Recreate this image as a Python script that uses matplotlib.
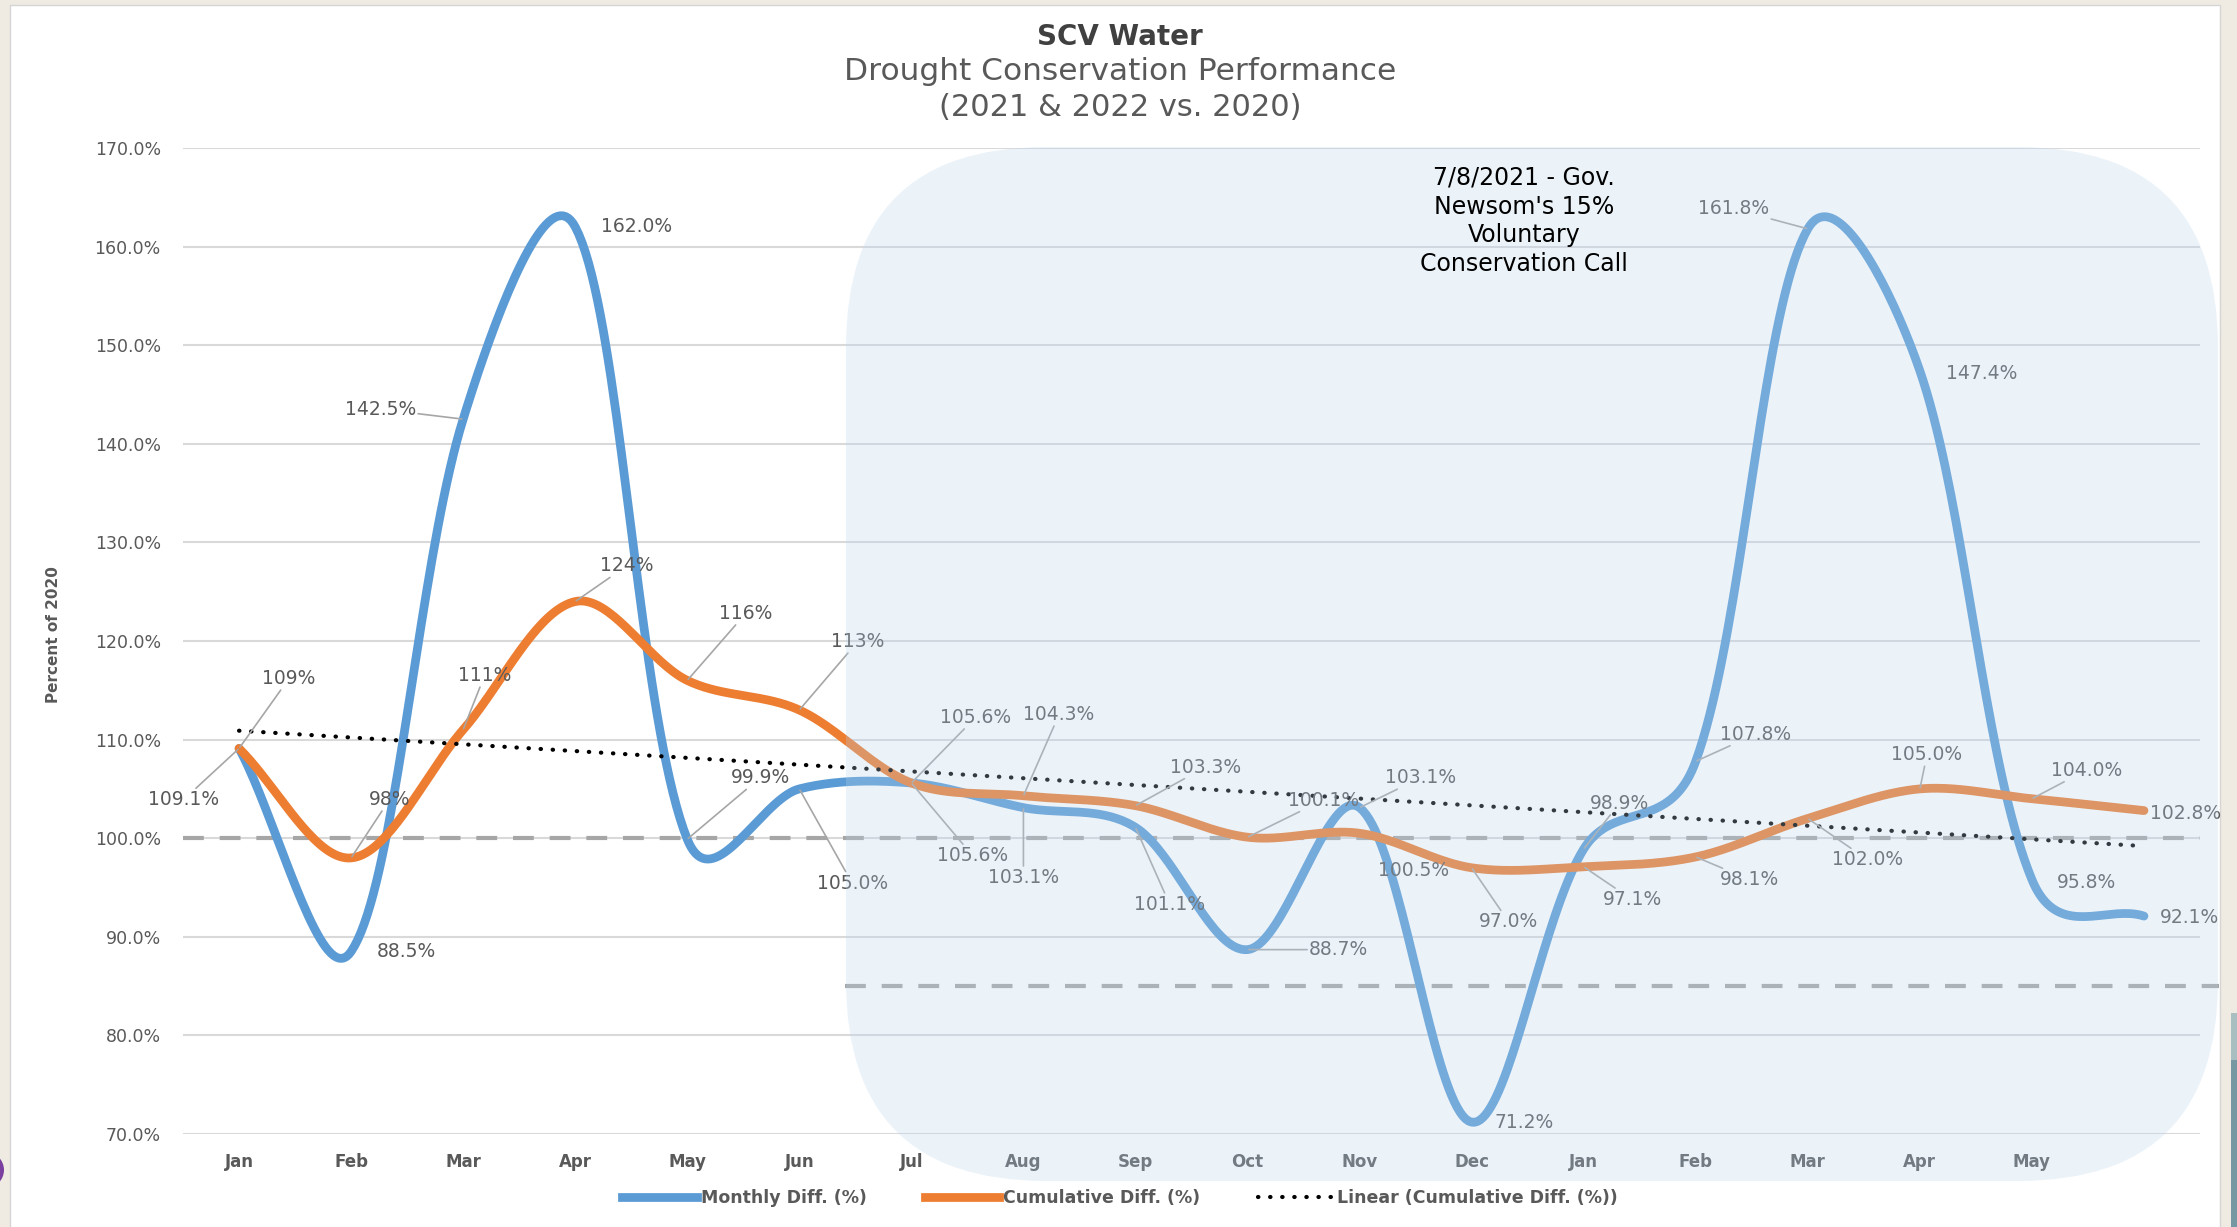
import numpy as np
import matplotlib
matplotlib.use("Agg")
import matplotlib.pyplot as plt
from matplotlib.patches import FancyBboxPatch, Rectangle, Circle
from matplotlib.lines import Line2D
from matplotlib.ticker import FuncFormatter

W, H = 2237, 1227
S = W / 1568  # offsets below were read on a 1568 px wide copy

# ---- data -------------------------------------------------------------------
months = ["Jan", "Feb", "Mar", "Apr", "May", "Jun", "Jul", "Aug", "Sep", "Oct", "Nov", "Dec",
          "Jan", "Feb", "Mar", "Apr", "May", ""]
monthly = [109.1, 88.5, 142.5, 162.0, 99.9, 105.0, 105.6, 103.1, 101.1, 88.7, 103.1, 71.2,
           98.9, 107.8, 161.8, 147.4, 95.8, 92.1]
cumulative = [109.1, 98.0, 111.0, 124.0, 116.0, 113.0, 105.6, 104.3, 103.3, 100.1, 100.5, 97.0,
              97.1, 98.1, 102.0, 105.0, 104.0, 102.8]
cum_decimals = [0] * 6 + [1] * 12
baseline = 100.0
target = 85.0
target_span = (5.41, 17.67)   # x range of the 85% guide line (category units)

# label offsets (dx right, dy down, in reference px) and whether a leader line shows
monthly_off = [(-39, 36), (39, 0), (-58, -7), (43, 0), (51, -43), (37, 66), (43, 51), (0, 49),
               (24, 54), (64, 0), (43, -21), (37, 0), (25, -32), (42, -19), (-52, -14),
               (43, 2), (38, 2), (32, 1)]
monthly_lead = [1, 0, 1, 0, 1, 1, 1, 1, 1, 1, 1, 0, 1, 1, 1, 0, 0, 0]
cum_off = [(35, -49), (27, -41), (15, -38), (36, -25), (41, -47), (41, -48), (45, -46),
           (25, -57), (49, -27), (53, -26), (38, 26), (26, 38), (34, 23), (38, 16), (42, 29),
           (5, -24), (38, -20), (29, 2)]
cum_lead = [1, 1, 1, 1, 1, 1, 1, 1, 1, 1, 0, 1, 1, 1, 1, 1, 1, 0]

BLUE = "#5B9BD5"
ORANGE = "#ED7D31"
GREY = "#595959"

# pixel size of one category / one percent, used to weight the smoothing
PX_X, PX_Y = 78.5, 6.91


def smooth(vals, n=40):
    # Excel style smoothed line: Bezier through each point; handle length is
    # half plain Catmull-Rom, half weighted by the on-screen segment lengths
    y = np.asarray(vals, float)
    p = np.column_stack([np.arange(len(y), dtype=float), y])
    scale = np.array([PX_X, PX_Y])
    m = len(p)
    c_out = p.copy()
    c_in = p.copy()
    for i in range(m):
        prv = p[max(i - 1, 0)]
        nxt = p[min(i + 1, m - 1)]
        tang = nxt - prv
        if i == 0:
            c_out[i] = p[i] + tang / 3
        elif i == m - 1:
            c_in[i] = p[i] - tang / 3
        else:
            d0 = np.linalg.norm((p[i] - prv) * scale)
            d1 = np.linalg.norm((nxt - p[i]) * scale)
            c_out[i] = p[i] + tang * (0.5 / 6 + 0.5 * d1 / (d0 + d1) / 3)
            c_in[i] = p[i] - tang * (0.5 / 6 + 0.5 * d0 / (d0 + d1) / 3)
    t = np.linspace(0, 1, n)[:, None]
    out = []
    for i in range(m - 1):
        p1, c1, c2, p2 = p[i], c_out[i], c_in[i + 1], p[i + 1]
        seg = (1 - t) ** 3 * p1 + 3 * (1 - t) ** 2 * t * c1 + 3 * (1 - t) * t ** 2 * c2 + t ** 3 * p2
        out.append(seg if i == 0 else seg[1:])
    return np.vstack(out)


fig = plt.figure(figsize=(W / 100, H / 100), dpi=100)
fig.patch.set_facecolor("#EFEBE2")

# ---- page frame -------------------------------------------------------------
bg = fig.add_axes([0, 0, 1, 1], zorder=0)
bg.set_xlim(0, W)
bg.set_ylim(H, 0)
bg.axis("off")
bg.add_patch(Rectangle((10, 5), 2210, H, facecolor="white", edgecolor="#D5D5D5", lw=1))
bg.add_patch(Rectangle((2231, 1013), 10, 50, facecolor="#A9BEC0", lw=0))
bg.add_patch(Rectangle((2231, 1060), 10, 200, facecolor="#7598A3", lw=0))
bg.add_patch(Circle((-14, 1170), 18, facecolor="#7B3FA0", lw=0))

# ---- main chart -------------------------------------------------------------
ax = fig.add_axes([183 / W, 1 - 1134 / H, (2200 - 183) / W, (1134 - 148) / H], zorder=1)
ax.set_facecolor("none")
x = np.arange(len(monthly))

ax.plot([-0.5, len(monthly) - 0.5], [baseline, baseline], color="#A6A6A6", lw=3,
        linestyle=(0, (5, 3.8)), zorder=2)
ax.plot(list(target_span), [target, target], color="#A6A6A6", lw=3,
        linestyle=(0, (5, 3.8)), zorder=2, clip_on=False)

sm = smooth(monthly)
ax.plot(sm[:, 0], sm[:, 1], color=BLUE, lw=6.3, solid_capstyle="round", zorder=4)
sc = smooth(cumulative)
ax.plot(sc[:, 0], sc[:, 1], color=ORANGE, lw=6.3, solid_capstyle="round", zorder=5)

coef = np.polyfit(x, cumulative, 1)
ax.plot(x, np.polyval(coef, x), color="black", lw=3, linestyle=(0, (0.1, 2.8)),
        dash_capstyle="round", zorder=6)

lead_style = dict(arrowstyle="-", color="#A6A6A6", lw=1.2, shrinkA=0, shrinkB=1)
box = dict(facecolor="none", edgecolor="none", pad=1.5)
for i, v in enumerate(monthly):
    dx, dy = monthly_off[i]
    ax.annotate(f"{v:.1f}%", (i, v), xytext=(dx * S, -dy * S), textcoords="offset pixels",
                ha="center", va="center", fontsize=13.5, color=GREY, bbox=box, zorder=8,
                arrowprops=lead_style if monthly_lead[i] else None)
for i, v in enumerate(cumulative):
    dx, dy = cum_off[i]
    ax.annotate(f"{v:.{cum_decimals[i]}f}%", (i, v), xytext=(dx * S, -dy * S),
                textcoords="offset pixels", ha="center", va="center", fontsize=13.5, color=GREY,
                bbox=box, zorder=8, arrowprops=lead_style if cum_lead[i] else None)

ax.set_xlim(-0.5, len(monthly) - 0.5)
ax.set_ylim(70, 170)
ax.set_yticks(np.arange(70, 171, 10))
ax.yaxis.set_major_formatter(FuncFormatter(lambda v, p: f"{v:.1f}%"))
ax.set_xticks(x)
ax.set_xticklabels(months, fontweight="bold")
ax.tick_params(axis="y", length=0, labelsize=12.5, labelcolor=GREY, pad=16)
ax.tick_params(axis="x", length=0, labelsize=12, labelcolor=GREY, pad=14)
ax.yaxis.grid(True, color="#D9D9D9", lw=1.5)
ax.set_axisbelow(True)
for s in ax.spines.values():
    s.set_visible(False)

# ---- shaded period overlay ---------------------------------------------------
ov = fig.add_axes([0, 0, 1, 1], zorder=2)
ov.set_xlim(0, W)
ov.set_ylim(H, 0)
ov.axis("off")
ov.patch.set_visible(False)
ov.add_patch(FancyBboxPatch((846, 147), 2218 - 846, 1181 - 147,
                            boxstyle="round,pad=0,rounding_size=200",
                            facecolor="#B9D5ED", edgecolor="none", alpha=0.28))
ov.text(1524, 221, "7/8/2021 - Gov.\nNewsom's 15%\nVoluntary\nConservation Call",
        ha="center", va="center", fontsize=17, color="black", linespacing=1.25)

# ---- titles, axis label, legend ----------------------------------------------
fig.text(1120 / W, 1 - 37 / H, "SCV Water", ha="center", va="center", fontsize=20,
         fontweight="bold", color="#404040")
fig.text(1120 / W, 1 - 71 / H, "Drought Conservation Performance", ha="center", va="center",
         fontsize=22.5, color=GREY)
fig.text(1120 / W, 1 - 107 / H, "(2021 & 2022 vs. 2020)", ha="center", va="center",
         fontsize=22, color=GREY)
fig.text(54 / W, 1 - 635 / H, "Percent of 2020", rotation=90, ha="center", va="center",
         fontsize=11, fontweight="bold", color=GREY)

handles = [Line2D([], [], color=BLUE, lw=6.3),
           Line2D([], [], color=ORANGE, lw=6.3),
           Line2D([], [], color="black", lw=3, linestyle=(0, (0.1, 2.8)), dash_capstyle="round")]
names = ["Monthly Diff. (%)", "Cumulative Diff. (%)", "Linear (Cumulative Diff. (%))"]
leg = fig.legend(handles, names, loc="center", bbox_to_anchor=(1120 / W, 1 - 1198 / H),
                 ncol=3, frameon=False, prop={"weight": "bold", "size": 12.5},
                 handlelength=4.3, columnspacing=3.3, handletextpad=0.25, labelcolor=GREY)

fig.savefig("out.png", dpi=100, facecolor=fig.get_facecolor())
